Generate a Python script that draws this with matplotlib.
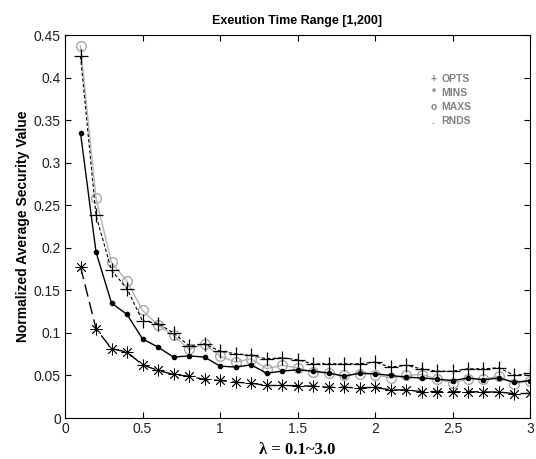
import numpy as np
import matplotlib
matplotlib.use("Agg")
import matplotlib.pyplot as plt

plt.rcParams['font.family'] = ['Liberation Sans', 'DejaVu Sans']

lam = [round(0.1 * i, 1) for i in range(1, 31)]

opts = [0.425, 0.238, 0.1735, 0.152, 0.114, 0.111, 0.100, 0.085, 0.087, 0.0786,
        0.0755, 0.0735, 0.0696, 0.0708, 0.0684, 0.0637, 0.0637, 0.0637, 0.0637, 0.0657,
        0.0598, 0.0618, 0.0578, 0.055, 0.055, 0.0578, 0.0578, 0.059, 0.050, 0.0527]
mins = [0.1775, 0.105, 0.0814, 0.0775, 0.0625, 0.0559, 0.0512, 0.049, 0.0453, 0.0441,
        0.042, 0.041, 0.0382, 0.0382, 0.038, 0.0375, 0.036, 0.036, 0.0355, 0.036,
        0.033, 0.033, 0.031, 0.031, 0.0306, 0.031, 0.0306, 0.0306, 0.0285, 0.029]
maxs = [0.437, 0.258, 0.183, 0.1606, 0.1265, 0.109, 0.097, 0.0806, 0.087, 0.0727,
        0.0657, 0.0696, 0.058, 0.0618, 0.059, 0.054, 0.0527, 0.050, 0.052, 0.051,
        0.047, 0.050, 0.051, 0.046, 0.041, 0.046, 0.046, 0.049, 0.040, 0.044]
rnds = [0.335, 0.195, 0.135, 0.1218, 0.093, 0.0833, 0.0716, 0.073, 0.0716, 0.061,
        0.0598, 0.0625, 0.0527, 0.055, 0.0567, 0.055, 0.053, 0.049, 0.0527, 0.052,
        0.050, 0.048, 0.047, 0.0457, 0.044, 0.047, 0.045, 0.047, 0.042, 0.044]

legend_items = [("+", "OPTS"), ("*", "MINS"), ("o", "MAXS"), (".", "RNDS")]

fig = plt.figure(figsize=(5.36, 4.59), dpi=100)
ax = fig.add_axes([0.1213, 0.0893, 0.8675, 0.8344])

ax.plot(lam, maxs, color='#b4b4b4', linestyle='-', linewidth=1,
        marker='o', markersize=7, markerfacecolor='none', markeredgecolor='#a8a8a8')
ax.plot(lam, opts, color='black', linestyle=(0, (3, 2)), linewidth=0.8,
        marker='+', markersize=10, markeredgewidth=0.9)
ax.plot(lam, rnds, color='black', linestyle='-', linewidth=1,
        marker='.', markersize=6)
# matlab style asterisk: plus and cross together
ax.plot(lam, mins, color='black', linestyle=(0, (9, 4)), linewidth=1,
        marker=(8, 2, 0), markersize=8.5, markeredgewidth=0.6)

ax.set_xlim(0, 3)
ax.set_ylim(0, 0.45)
ax.set_xticks([0, 0.5, 1, 1.5, 2, 2.5, 3])
ax.set_xticklabels(['0', '0.5', '1', '1.5', '2', '2.5', '3'])
ax.set_yticks(np.arange(0, 0.451, 0.05))
ax.set_yticklabels(['0', '0.05', '0.1', '0.15', '0.2', '0.25', '0.3', '0.35', '0.4', '0.45'])
ax.tick_params(direction='in', top=True, right=True, length=4, labelsize=10, pad=3,
               labelcolor='#202020')
for s in ax.spines.values():
    s.set_linewidth(0.8)

ax.set_title("Exeution Time Range [1,200]", fontsize=9, fontweight='bold', pad=8)
ax.set_ylabel("Normalized Average Security Value", fontsize=10, fontweight='bold', labelpad=3)
ax.set_xlabel("λ = 0.1~3.0", fontsize=12, fontweight='bold',
              family=['Liberation Serif', 'DejaVu Serif'], labelpad=4)

for i, (sym, name) in enumerate(legend_items):
    yy = 0.885 - i * 0.0365
    ax.text(0.787, yy, sym, transform=ax.transAxes, fontsize=7.5, fontweight='bold',
            color='#808080', ha='left', va='center')
    ax.text(0.81, yy, name, transform=ax.transAxes, fontsize=7.5, fontweight='bold',
            color='#808080', ha='left', va='center')

fig.savefig("out.png", dpi=100)
